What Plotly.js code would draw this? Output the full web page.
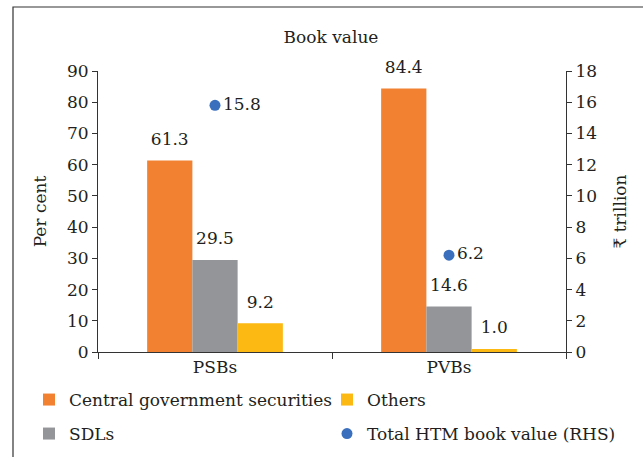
<!DOCTYPE html>
<html><head><meta charset="utf-8">
<script src="https://cdn.plot.ly/plotly-3.0.1.min.js"></script>
<style>html,body{margin:0;padding:0;background:#fff;}#chart{width:643px;height:457px;}</style>
</head><body><div id="chart"></div>
<script>
const categories = ["PSBs", "PVBs"];
const cgsValues = [61.3, 84.4];
const sdlValues = [29.5, 14.6];
const othersValues = [9.2, 1.0];
const htmTotal = [15.8, 6.2];
const seriesNames = ["Central government securities", "SDLs", "Others", "Total HTM book value (RHS)"];

const FONT = "DejaVu Serif, serif";
const FS = 17;
const txtFont = {family: FONT, size: FS, color: "#231f20"};
const barTextFont = {family: FONT, size: 8, color: "#231f20"};
const barLabel = "<span style='font-size:17px'>%{y:.1f}</span><br>&nbsp;";

const traces = [
  {type: "bar", name: seriesNames[0], x: categories, y: cgsValues, marker: {color: "#F28232"},
   texttemplate: barLabel, textposition: "outside", textfont: barTextFont, constraintext: "none", cliponaxis: false, legend: "legend"},
  {type: "bar", name: seriesNames[1], x: categories, y: sdlValues, marker: {color: "#939598"},
   texttemplate: barLabel, textposition: "outside", textfont: barTextFont, constraintext: "none", cliponaxis: false, legend: "legend3"},
  {type: "bar", name: seriesNames[2], x: categories, y: othersValues, marker: {color: "#FDB913"},
   texttemplate: barLabel, textposition: "outside", textfont: barTextFont, constraintext: "none", cliponaxis: false, legend: "legend2"},
  {type: "scatter", mode: "markers+text", name: seriesNames[3], x: categories, y: htmTotal, yaxis: "y2",
   marker: {color: "#3A6FBE", size: 11}, text: htmTotal.map(v => v.toFixed(1)), textposition: "middle right",
   textfont: txtFont, cliponaxis: false, legend: "legend4"}
];

const L = 98, R = 566, T = 71, B = 352;
const pw = R - L, ph = B - T;
const px = v => (v - L) / pw;
const py = v => (B - v) / ph;

function leg(xPix, yPix) {
  return {orientation: "h", xanchor: "left", yanchor: "middle", x: px(xPix), y: py(yPix),
    itemwidth: 30, font: {family: FONT, size: FS, color: "#231f20"}, bgcolor: "rgba(0,0,0,0)"};
}

const layout = {
  width: 643, height: 457,
  margin: {l: L, r: 643 - R, t: T, b: 457 - B, autoexpand: false},
  paper_bgcolor: "#fff", plot_bgcolor: "#fff",
  font: {family: FONT, size: FS, color: "#231f20"},
  title: {text: "Book value", x: px(331), xref: "paper", xanchor: "center", y: 1 - 37/457, yanchor: "middle", font: {family: FONT, size: FS, color: "#231f20"}},
  barmode: "group", bargap: 0.42, bargroupgap: 0,
  showlegend: true,
  xaxis: {type: "category", tickson: "boundaries", ticks: "outside", ticklen: 6, tickcolor: "#333",
          showline: true, linecolor: "#333", linewidth: 1, showgrid: false, zeroline: false,
          tickfont: {family: FONT, size: FS}},
  yaxis: {range: [0, 90], dtick: 10, ticks: "outside", ticklen: 5, tickcolor: "#333",
          showline: true, linecolor: "#333", showgrid: false, zeroline: false,
          tickfont: {family: FONT, size: FS},
          title: {text: "Per cent", standoff: 16, font: {family: FONT, size: FS}}},
  yaxis2: {range: [0, 18], dtick: 2, overlaying: "y", side: "right", ticks: "outside", ticklen: 5, tickcolor: "#333",
           showline: true, linecolor: "#333", showgrid: false, zeroline: false,
           tickfont: {family: FONT, size: FS},
           title: {text: "₹ trillion", standoff: 18, font: {family: FONT, size: FS}}},
  legend: leg(29, 400),
  legend2: leg(327, 400),
  legend3: leg(29, 434),
  legend4: leg(327, 434),
  shapes: [
    {type: "rect", xref: "paper", yref: "paper", x0: px(13), x1: px(660), y0: py(475), y1: py(7),
     line: {color: "#333", width: 1.2}, fillcolor: "rgba(0,0,0,0)", layer: "below"}
  ]
};

Plotly.newPlot("chart", traces, layout, {displayModeBar: false, staticPlot: true});
</script>
</body></html>
